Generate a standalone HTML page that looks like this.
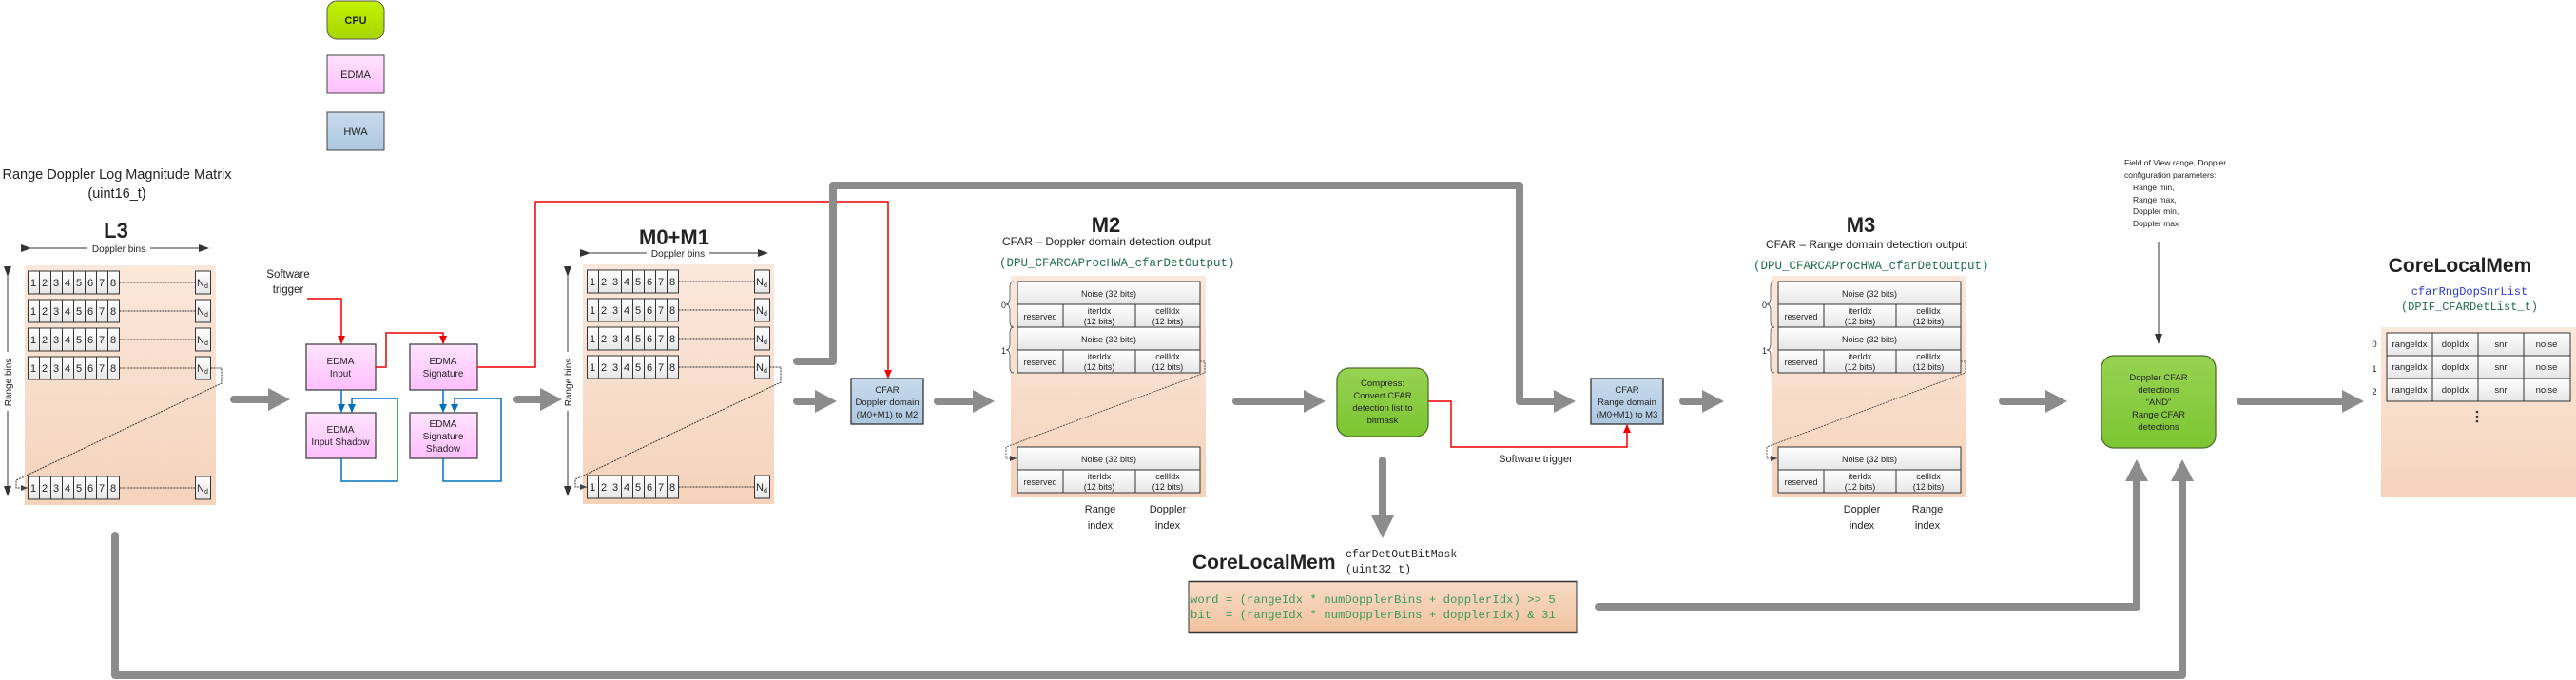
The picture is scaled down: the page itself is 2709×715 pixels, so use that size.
<!DOCTYPE html>
<html><head><meta charset="utf-8"><style>
html,body{margin:0;padding:0;background:#fff;}
svg{display:block;}
text{font-family:"Liberation Sans",sans-serif;fill:#222;}
.mono{font-family:"Liberation Mono",monospace;}
</style></head><body>
<svg width="2709" height="715" viewBox="0 0 2709 715" xmlns="http://www.w3.org/2000/svg">
<defs>
<linearGradient id="bg" x1="0" y1="0" x2="0" y2="1"><stop offset="0" stop-color="#fbe8dc"/><stop offset="1" stop-color="#f5d3bb"/></linearGradient>
<linearGradient id="code" x1="0" y1="0" x2="0" y2="1"><stop offset="0" stop-color="#f8dcc6"/><stop offset="1" stop-color="#f1c29f"/></linearGradient>
<linearGradient id="cell" x1="0" y1="0" x2="0" y2="1"><stop offset="0" stop-color="#ffffff"/><stop offset="1" stop-color="#e6e6e6"/></linearGradient>
<linearGradient id="edma" x1="0" y1="0" x2="0" y2="1"><stop offset="0" stop-color="#ffe4ff"/><stop offset="1" stop-color="#ffbfff"/></linearGradient>
<linearGradient id="hwa" x1="0" y1="0" x2="0" y2="1"><stop offset="0" stop-color="#c8dbec"/><stop offset="1" stop-color="#adc7df"/></linearGradient>
<linearGradient id="grn" x1="0" y1="0" x2="0" y2="1"><stop offset="0" stop-color="#97d352"/><stop offset="1" stop-color="#7cc531"/></linearGradient>
<linearGradient id="cpu" x1="0" y1="0" x2="0" y2="1"><stop offset="0" stop-color="#c4f200"/><stop offset="1" stop-color="#a6d600"/></linearGradient>
<marker id="ar" markerWidth="10" markerHeight="10" refX="8" refY="5" orient="auto" markerUnits="userSpaceOnUse"><path d="M0,1 L9,5 L0,9 z" fill="#e00"/></marker>
<marker id="ab" markerWidth="10" markerHeight="10" refX="8" refY="5" orient="auto" markerUnits="userSpaceOnUse"><path d="M0,1 L9,5 L0,9 z" fill="#0070c0"/></marker>
<marker id="ak" markerWidth="12" markerHeight="10" refX="10" refY="5" orient="auto" markerUnits="userSpaceOnUse"><path d="M0,1 L11,5 L0,9 z" fill="#333"/></marker>
<marker id="ad" markerWidth="8" markerHeight="8" refX="7" refY="4" orient="auto" markerUnits="userSpaceOnUse"><path d="M0,1 L7,4 L0,7 z" fill="#444"/></marker>
<g id="row8">
<rect x="0" y="0" width="12" height="24" fill="url(#cell)" stroke="#333"/>
<rect x="12" y="0" width="12" height="24" fill="url(#cell)" stroke="#333"/>
<rect x="24" y="0" width="12" height="24" fill="url(#cell)" stroke="#333"/>
<rect x="36" y="0" width="12" height="24" fill="url(#cell)" stroke="#333"/>
<rect x="48" y="0" width="12" height="24" fill="url(#cell)" stroke="#333"/>
<rect x="60" y="0" width="12" height="24" fill="url(#cell)" stroke="#333"/>
<rect x="72" y="0" width="12" height="24" fill="url(#cell)" stroke="#333"/>
<rect x="84" y="0" width="12" height="24" fill="url(#cell)" stroke="#333"/>
<line x1="96" y1="12" x2="176" y2="12" stroke="#333" stroke-dasharray="2,1"/>
<rect x="176" y="0" width="16" height="24" fill="url(#cell)" stroke="#333"/>
</g>
</defs>

<!-- legend -->
<rect x="344" y="1" width="60" height="40" rx="10" fill="url(#cpu)" stroke="#555"/>
<text x="374" y="25" font-size="11" font-weight="bold" text-anchor="middle">CPU</text>
<rect x="344" y="58" width="60" height="40" fill="url(#edma)" stroke="#444"/>
<text x="374" y="82" font-size="11" text-anchor="middle">EDMA</text>
<rect x="344" y="118" width="60" height="40" fill="url(#hwa)" stroke="#444"/>
<text x="374" y="142" font-size="11" text-anchor="middle">HWA</text>

<!-- L3 -->
<text x="123" y="188" font-size="14.5" text-anchor="middle">Range Doppler Log Magnitude Matrix</text>
<text x="123" y="208" font-size="14.5" text-anchor="middle">(uint16_t)</text>
<text x="122" y="250" font-size="22" font-weight="bold" text-anchor="middle">L3</text>
<line x1="32" y1="261" x2="219" y2="261" stroke="#333" marker-start="url(#ak)" marker-end="url(#ak)"/>
<rect x="92" y="255" width="66" height="12" fill="#fff"/>
<text x="125" y="265" font-size="10" text-anchor="middle">Doppler bins</text>
<rect x="26" y="279" width="201" height="252" fill="url(#bg)"/>
<line x1="8" y1="290" x2="8" y2="521" stroke="#333" marker-start="url(#ak)" marker-end="url(#ak)"/>
<rect x="2" y="370" width="12" height="62" fill="#fff"/>
<text transform="translate(12,402) rotate(-90)" font-size="10" text-anchor="middle">Range bins</text>
<g font-size="11">
<use href="#row8" x="29.5" y="285"/><use href="#row8" x="29.5" y="315"/><use href="#row8" x="29.5" y="345"/><use href="#row8" x="29.5" y="375"/><use href="#row8" x="29.5" y="501"/>
<text y="301" x="32 44 56 68 80 92 104 116">12345678</text>
<text y="331" x="32 44 56 68 80 92 104 116">12345678</text>
<text y="361" x="32 44 56 68 80 92 104 116">12345678</text>
<text y="391" x="32 44 56 68 80 92 104 116">12345678</text>
<text y="517" x="32 44 56 68 80 92 104 116">12345678</text>
<text x="207" y="301">N<tspan font-size="7" dy="2">d</tspan></text>
<text x="207" y="331">N<tspan font-size="7" dy="2">d</tspan></text>
<text x="207" y="361">N<tspan font-size="7" dy="2">d</tspan></text>
<text x="207" y="391">N<tspan font-size="7" dy="2">d</tspan></text>
<text x="207" y="517">N<tspan font-size="7" dy="2">d</tspan></text>
</g>
<path d="M221.5,387 H233 V403 L17,505 V513 H29" fill="none" stroke="#333" stroke-dasharray="2,1" marker-end="url(#ad)"/>

<!-- EDMA -->
<text x="303" y="292" font-size="11.5" text-anchor="middle">Software</text>
<text x="303" y="308" font-size="11.5" text-anchor="middle">trigger</text>
<path d="M323,314 H359 V361" fill="none" stroke="#e00" stroke-width="1.5" marker-end="url(#ar)"/>
<rect x="322" y="362" width="73" height="48" fill="url(#edma)" stroke="#444" stroke-width="1.3"/>
<text x="358" y="383" font-size="10" text-anchor="middle">EDMA</text>
<text x="358" y="396" font-size="10" text-anchor="middle">Input</text>
<rect x="431" y="362" width="71" height="48" fill="url(#edma)" stroke="#444" stroke-width="1.3"/>
<text x="466" y="383" font-size="10" text-anchor="middle">EDMA</text>
<text x="466" y="396" font-size="10" text-anchor="middle">Signature</text>
<rect x="322" y="434" width="73" height="48" fill="url(#edma)" stroke="#444" stroke-width="1.3"/>
<text x="358" y="455" font-size="10" text-anchor="middle">EDMA</text>
<text x="358" y="468" font-size="10" text-anchor="middle">Input Shadow</text>
<rect x="431" y="434" width="71" height="48" fill="url(#edma)" stroke="#444" stroke-width="1.3"/>
<text x="466" y="449" font-size="10" text-anchor="middle">EDMA</text>
<text x="466" y="462" font-size="10" text-anchor="middle">Signature</text>
<text x="466" y="475" font-size="10" text-anchor="middle">Shadow</text>
<path d="M395,386 H406 V350 H466 V361" fill="none" stroke="#e00" stroke-width="1.5" marker-end="url(#ar)"/>
<path d="M502,386 H563 V212 H934 V397" fill="none" stroke="#e00" stroke-width="1.5" marker-end="url(#ar)"/>
<g fill="none" stroke="#0070c0" stroke-width="1.5">
<path d="M359,410 V433" marker-end="url(#ab)"/>
<path d="M359,482 V506 H418 V419 H370 V433" marker-end="url(#ab)"/>
<path d="M466,410 V433" marker-end="url(#ab)"/>
<path d="M466,482 V506 H527 V419 H478 V433" marker-end="url(#ab)"/>
</g>

<!-- M0+M1 -->
<text x="709" y="257" font-size="22" font-weight="bold" text-anchor="middle">M0+M1</text>
<line x1="620" y1="266" x2="807" y2="266" stroke="#333" marker-start="url(#ak)" marker-end="url(#ak)"/>
<rect x="680" y="260" width="66" height="12" fill="#fff"/>
<text x="713" y="270" font-size="10" text-anchor="middle">Doppler bins</text>
<rect x="613" y="278" width="201" height="252" fill="url(#bg)"/>
<line x1="597" y1="290" x2="597" y2="521" stroke="#333" marker-start="url(#ak)" marker-end="url(#ak)"/>
<rect x="591" y="370" width="12" height="62" fill="#fff"/>
<text transform="translate(601,402) rotate(-90)" font-size="10" text-anchor="middle">Range bins</text>
<g font-size="11">
<use href="#row8" x="617.5" y="284"/><use href="#row8" x="617.5" y="314"/><use href="#row8" x="617.5" y="344"/><use href="#row8" x="617.5" y="374"/><use href="#row8" x="617.5" y="500"/>
<text y="300" x="620 632 644 656 668 680 692 704">12345678</text>
<text y="330" x="620 632 644 656 668 680 692 704">12345678</text>
<text y="360" x="620 632 644 656 668 680 692 704">12345678</text>
<text y="390" x="620 632 644 656 668 680 692 704">12345678</text>
<text y="516" x="620 632 644 656 668 680 692 704">12345678</text>
<text x="795" y="300">N<tspan font-size="7" dy="2">d</tspan></text>
<text x="795" y="330">N<tspan font-size="7" dy="2">d</tspan></text>
<text x="795" y="360">N<tspan font-size="7" dy="2">d</tspan></text>
<text x="795" y="390">N<tspan font-size="7" dy="2">d</tspan></text>
<text x="795" y="516">N<tspan font-size="7" dy="2">d</tspan></text>
</g>
<path d="M809.5,386 H821 V402 L605,504 V512 H617" fill="none" stroke="#333" stroke-dasharray="2,1" marker-end="url(#ad)"/>

<!-- CFAR Doppler -->
<rect x="895" y="398" width="76" height="48" fill="url(#hwa)" stroke="#333" stroke-width="1.3"/>
<text x="933" y="413" font-size="9.5" text-anchor="middle">CFAR</text>
<text x="933" y="426" font-size="9.5" text-anchor="middle">Doppler domain</text>
<text x="933" y="439" font-size="9.5" text-anchor="middle">(M0+M1) to M2</text>

<!-- M2 -->
<text x="1163" y="244" font-size="22" font-weight="bold" text-anchor="middle">M2</text>
<text x="1054" y="258" font-size="12">CFAR – Doppler domain detection output</text>
<text x="1051" y="280" font-size="12.5" class="mono" style="fill:#1e6b4a">(DPU_CFARCAProcHWA_cfarDetOutput)</text>
<g id="m2">
<rect x="1063" y="290" width="205" height="233" fill="url(#bg)"/>
<g stroke="#333" fill="url(#cell)">
<rect x="1070" y="296" width="192" height="24"/><rect x="1070" y="320" width="48" height="24"/><rect x="1118" y="320" width="76" height="24"/><rect x="1194" y="320" width="68" height="24"/>
<rect x="1070" y="344" width="192" height="24"/><rect x="1070" y="368" width="48" height="24"/><rect x="1118" y="368" width="76" height="24"/><rect x="1194" y="368" width="68" height="24"/>
<rect x="1070" y="470" width="192" height="24"/><rect x="1070" y="494" width="48" height="24"/><rect x="1118" y="494" width="76" height="24"/><rect x="1194" y="494" width="68" height="24"/>
</g>
<g font-size="9" text-anchor="middle">
<text x="1166" y="312">Noise (32 bits)</text><text x="1094" y="336">reserved</text><text x="1156" y="330">iterIdx</text><text x="1156" y="341">(12 bits)</text><text x="1228" y="330">cellIdx</text><text x="1228" y="341">(12 bits)</text>
<text x="1166" y="360">Noise (32 bits)</text><text x="1094" y="384">reserved</text><text x="1156" y="378">iterIdx</text><text x="1156" y="389">(12 bits)</text><text x="1228" y="378">cellIdx</text><text x="1228" y="389">(12 bits)</text>
<text x="1166" y="486">Noise (32 bits)</text><text x="1094" y="510">reserved</text><text x="1156" y="504">iterIdx</text><text x="1156" y="515">(12 bits)</text><text x="1228" y="504">cellIdx</text><text x="1228" y="515">(12 bits)</text>
</g>
<path d="M1066,296 Q1062,296 1062,302 V314 Q1062,320 1058,320 Q1062,320 1062,326 V338 Q1062,344 1066,344" fill="none" stroke="#444" stroke-width="0.8"/>
<path d="M1066,344 Q1062,344 1062,350 V362 Q1062,368 1058,368 Q1062,368 1062,374 V386 Q1062,392 1066,392" fill="none" stroke="#444" stroke-width="0.8"/>
<text x="1053" y="324" font-size="9">0</text><text x="1053" y="372" font-size="9">1</text>
<path d="M1262,380 H1267 V392 L1058,470 V482 H1069" fill="none" stroke="#333" stroke-dasharray="2,1" stroke-width="0.8" marker-end="url(#ad)"/>
</g>
<text x="1157" y="539" font-size="11" text-anchor="middle">Range</text>
<text x="1157" y="556" font-size="11" text-anchor="middle">index</text>
<text x="1228" y="539" font-size="11" text-anchor="middle">Doppler</text>
<text x="1228" y="556" font-size="11" text-anchor="middle">index</text>

<!-- Compress -->
<rect x="1406" y="387" width="96" height="72" rx="13" fill="url(#grn)" stroke="#4d6e2a" stroke-width="1.3"/>
<g font-size="9.5" text-anchor="middle">
<text x="1454" y="406">Compress:</text><text x="1454" y="419">Convert CFAR</text><text x="1454" y="432">detection list to</text><text x="1454" y="445">bitmask</text>
</g>
<path d="M1502,422 H1526 V470 H1711 V447" fill="none" stroke="#e00" stroke-width="1.5" marker-end="url(#ar)"/>
<text x="1615" y="486" font-size="11" text-anchor="middle">Software trigger</text>
<rect x="1673" y="398" width="76" height="48" fill="url(#hwa)" stroke="#333" stroke-width="1.3"/>
<text x="1711" y="413" font-size="9.5" text-anchor="middle">CFAR</text>
<text x="1711" y="426" font-size="9.5" text-anchor="middle">Range domain</text>
<text x="1711" y="439" font-size="9.5" text-anchor="middle">(M0+M1) to M3</text>

<!-- bottom CoreLocalMem -->
<text x="1254" y="598" font-size="21" font-weight="bold">CoreLocalMem</text>
<text x="1415" y="586" font-size="11.5" class="mono">cfarDetOutBitMask</text>
<text x="1415" y="602" font-size="11.5" class="mono">(uint32_t)</text>
<rect x="1250" y="611" width="408" height="55" fill="url(#code)"/>
<line x1="1250" y1="611.5" x2="1658" y2="611.5" stroke="#333" stroke-width="1.5"/>
<line x1="1250" y1="665.5" x2="1658" y2="665.5" stroke="#333" stroke-width="1.5"/>
<line x1="1250" y1="611" x2="1250" y2="666" stroke="#333" stroke-width="1"/>
<line x1="1658" y1="611" x2="1658" y2="666" stroke="#333" stroke-width="1"/>
<text x="1252" y="634" font-size="12.3" class="mono" style="fill:#3a9a5a" xml:space="preserve">word = (rangeIdx * numDopplerBins + dopplerIdx) &gt;&gt; 5</text>
<text x="1252" y="650" font-size="12.3" class="mono" style="fill:#3a9a5a" xml:space="preserve">bit  = (rangeIdx * numDopplerBins + dopplerIdx) &amp; 31</text>

<!-- M3 -->
<text x="1957" y="244" font-size="22" font-weight="bold" text-anchor="middle">M3</text>
<text x="1857" y="261" font-size="12">CFAR – Range domain detection output</text>
<text x="1844" y="283" font-size="12.5" class="mono" style="fill:#1e6b4a">(DPU_CFARCAProcHWA_cfarDetOutput)</text>
<use href="#m2" x="800" y="0"/>
<text x="1958" y="539" font-size="11" text-anchor="middle">Doppler</text>
<text x="1958" y="556" font-size="11" text-anchor="middle">index</text>
<text x="2027" y="539" font-size="11" text-anchor="middle">Range</text>
<text x="2027" y="556" font-size="11" text-anchor="middle">index</text>

<!-- FOV -->
<g font-size="8.5">
<text x="2234" y="174">Field of View range, Doppler</text>
<text x="2234" y="187">configuration parameters:</text>
<text x="2243" y="200">Range min,</text>
<text x="2243" y="213">Range max,</text>
<text x="2243" y="225">Doppler min,</text>
<text x="2243" y="238">Doppler max</text>
</g>
<line x1="2270" y1="254" x2="2270" y2="361" stroke="#333" marker-end="url(#ak)"/>
<rect x="2210" y="374" width="120" height="97" rx="13" fill="url(#grn)" stroke="#4d6e2a" stroke-width="1.3"/>
<g font-size="9.5" text-anchor="middle">
<text x="2270" y="400">Doppler CFAR</text><text x="2270" y="413">detections</text><text x="2270" y="426">“AND”</text><text x="2270" y="439">Range CFAR</text><text x="2270" y="452">detections</text>
</g>

<!-- right CoreLocalMem -->
<text x="2587" y="286" font-size="21" font-weight="bold" text-anchor="middle">CoreLocalMem</text>
<text x="2597" y="310" font-size="12" class="mono" text-anchor="middle" style="fill:#2a3ad0">cfarRngDopSnrList</text>
<text x="2597" y="326" font-size="12" class="mono" text-anchor="middle" style="fill:#1e6b4a">(DPIF_CFARDetList_t)</text>
<rect x="2504" y="344" width="205" height="179" fill="url(#bg)"/>
<g stroke="#333" fill="url(#cell)">
<rect x="2510" y="350" width="48" height="24"/><rect x="2558" y="350" width="48" height="24"/><rect x="2606" y="350" width="48" height="24"/><rect x="2654" y="350" width="49" height="24"/>
<rect x="2510" y="374" width="48" height="24"/><rect x="2558" y="374" width="48" height="24"/><rect x="2606" y="374" width="48" height="24"/><rect x="2654" y="374" width="49" height="24"/>
<rect x="2510" y="398" width="48" height="24"/><rect x="2558" y="398" width="48" height="24"/><rect x="2606" y="398" width="48" height="24"/><rect x="2654" y="398" width="49" height="24"/>
</g>
<g font-size="9.5" text-anchor="middle">
<text x="2534" y="365">rangeIdx</text><text x="2582" y="365">dopIdx</text><text x="2630" y="365">snr</text><text x="2678" y="365">noise</text>
<text x="2534" y="389">rangeIdx</text><text x="2582" y="389">dopIdx</text><text x="2630" y="389">snr</text><text x="2678" y="389">noise</text>
<text x="2534" y="413">rangeIdx</text><text x="2582" y="413">dopIdx</text><text x="2630" y="413">snr</text><text x="2678" y="413">noise</text>
<text x="2497" y="365">0</text><text x="2497" y="391">1</text><text x="2497" y="415">2</text>
</g>
<circle cx="2605" cy="433" r="1.3" fill="#333"/><circle cx="2605" cy="438" r="1.3" fill="#333"/><circle cx="2605" cy="443" r="1.3" fill="#333"/>

<!-- grey flow arrows -->
<g stroke="#8c8c8c" stroke-width="8" fill="none" stroke-linecap="round" stroke-linejoin="round">
<line x1="246" y1="420" x2="285" y2="420"/>
<line x1="544" y1="420" x2="570" y2="420"/>
<line x1="838" y1="422" x2="860" y2="422"/>
<line x1="986" y1="422" x2="1026" y2="422"/>
<line x1="1300" y1="422" x2="1374" y2="422"/>
<line x1="1770" y1="422" x2="1793" y2="422"/>
<line x1="2106" y1="422" x2="2154" y2="422"/>
<line x1="2356" y1="422" x2="2466" y2="422"/>
<line x1="1454" y1="484" x2="1454" y2="545"/>
<path d="M838,380 H876 V195 H1598 V422 H1637"/>
<path d="M1681,638 H2247 V503"/>
<path d="M121,563 V710 H2295 V503"/>
</g>
<g fill="#8c8c8c">
<polygon points="282,408 305,420 282,432"/>
<polygon points="568,408 591,420 568,432"/>
<polygon points="857,410 880,422 857,434"/>
<polygon points="1023,410 1046,422 1023,434"/>
<polygon points="1371,410 1394,422 1371,434"/>
<polygon points="1634,410 1657,422 1634,434"/>
<polygon points="1790,410 1813,422 1790,434"/>
<polygon points="2151,410 2174,422 2151,434"/>
<polygon points="2463,410 2486,422 2463,434"/>
<polygon points="1442,542 1454,566 1466,542"/>
<polygon points="2235,506 2247,483 2259,506"/>
<polygon points="2283,506 2295,483 2307,506"/>
</g>
</svg>
</body></html>
